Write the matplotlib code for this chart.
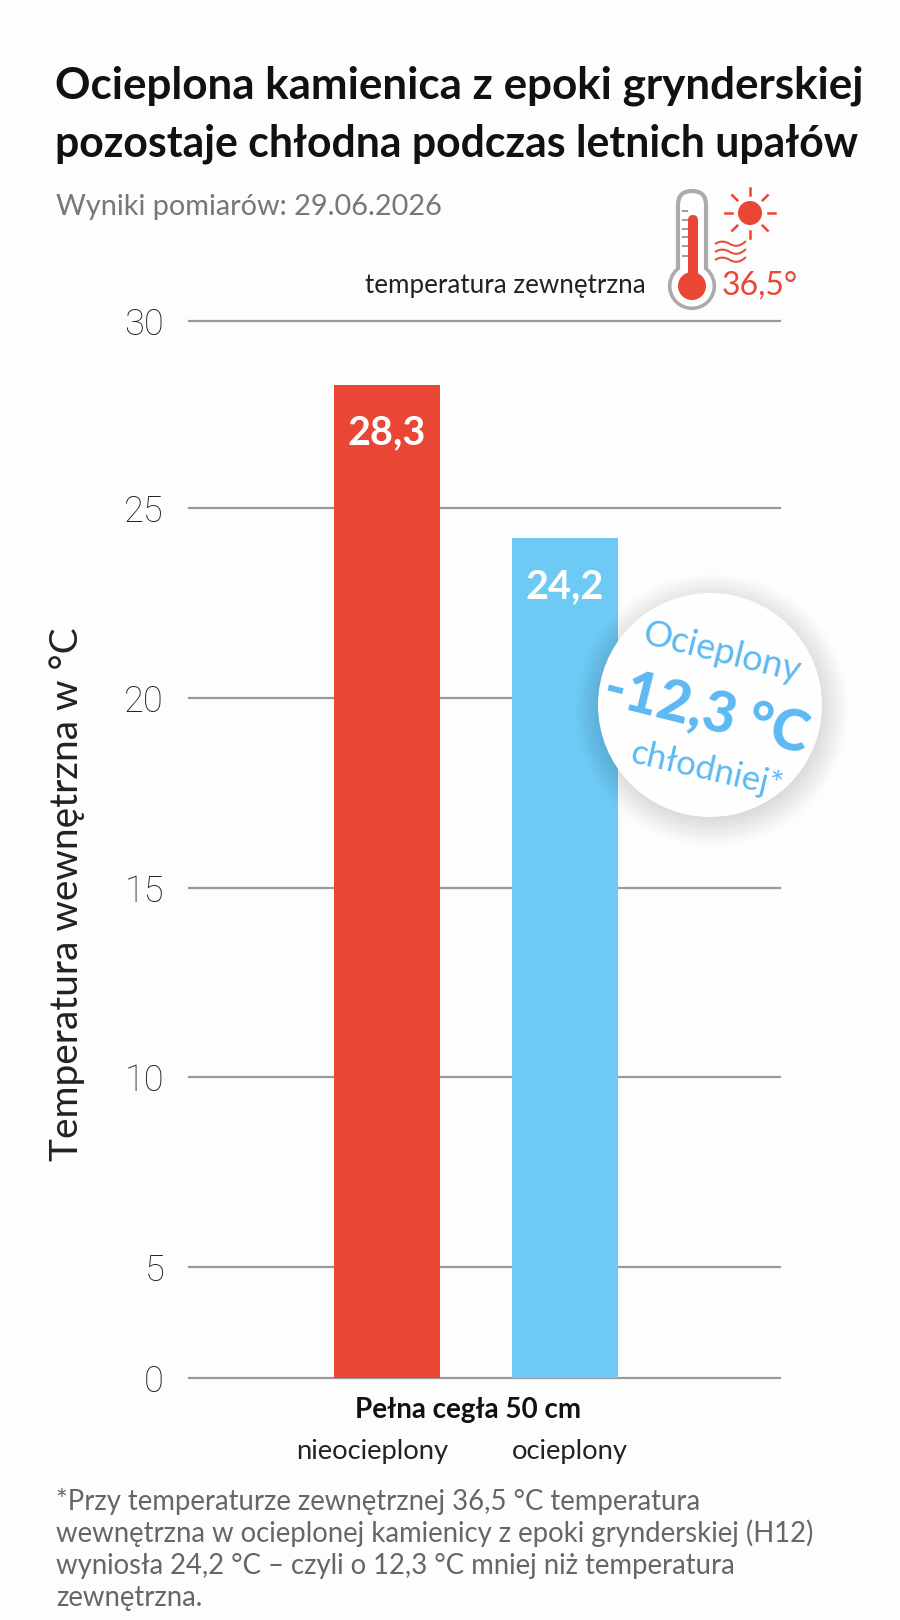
import matplotlib
matplotlib.use("Agg")
import matplotlib.pyplot as plt
import numpy as np
from matplotlib.patches import Circle, FancyBboxPatch, PathPatch
from matplotlib.path import Path

plt.rcParams["font.family"] = ["Lato", "DejaVu Sans"]

# Data
categories = ["nieocieplony", "ocieplony"]
values = [28.3, 24.2]
value_labels = ["28,3", "24,2"]
bar_colors = ["#EA4636", "#6CCAF4"]
y_ticks = [0, 5, 10, 15, 20, 25, 30]
group_label = "Pełna cegła 50 cm"

title_lines = ["Ocieplona kamienica z epoki grynderskiej",
               "pozostaje chłodna podczas letnich upałów"]
subtitle = "Wyniki pomiarów: 29.06.2026"
footnote_lines = ["*Przy temperaturze zewnętrznej 36,5 °C temperatura",
                  "wewnętrzna w ocieplonej kamienicy z epoki grynderskiej (H12)",
                  "wyniosła 24,2 °C – czyli o 12,3 °C mniej niż temperatura",
                  "zewnętrzna."]

RED = "#EA4636"
BLUE = "#5DB9F3"
BG = "#FDFDFD"
W, H = 900, 1620


# The source chart squeezes the 0-5 step, the rest of the axis is nearly linear
def squeeze(y):
    return np.interp(y, [0, 5, 25, 30], [0, 111, 870, 1057])


def unsqueeze(v):
    return np.interp(v, [0, 111, 870, 1057], [0, 5, 25, 30])


fig = plt.figure(figsize=(9, 16.2), dpi=100, facecolor=BG)

ax = fig.add_axes([189 / W, 1 - 1378 / H, (780 - 189) / W, (1378 - 321) / H], facecolor="none")
ax.set_yscale("function", functions=(squeeze, unsqueeze))
ax.set_ylim(0, 30)
ax.set_xlim(-1.112, 2.208)
ax.bar([0, 1], values, width=0.596, color=bar_colors, zorder=3)
ax.set_yticks(y_ticks)
ax.set_yticklabels([str(t) for t in y_ticks], fontsize=26, color="#222222", va="center_baseline",
                   family=["Roboto", "Lato"], fontweight="light")
ax.tick_params(axis="y", length=0, pad=18)
ax.set_xticks([])
ax.minorticks_off()
ax.grid(axis="y", color="#999999", lw=1.6, zorder=1, clip_on=False)
for s in ax.spines.values():
    s.set_visible(False)

for i, (v, lab) in enumerate(zip(values, value_labels)):
    ax.annotate(lab, (i, v), xytext=(0, -48), textcoords="offset pixels", ha="center", va="center",
                color="white", fontsize=28.5, fontweight="bold", zorder=4)

# Overlay in pixel coordinates for text blocks and decorations
ov = fig.add_axes([0, 0, 1, 1], facecolor="none")
ov.set_xlim(0, W)
ov.set_ylim(H, 0)
ov.axis("off")

for line, y, fs in zip(title_lines, [99, 156], [31.7, 30.8]):
    ov.text(55, y, line, fontsize=fs, fontweight="bold", color="#111111", va="baseline")
ov.text(56, 215, subtitle, fontsize=20.8, color="#777777", va="baseline")
ov.text(646, 293, "temperatura zewnętrzna", fontsize=18.7, color="#222222", ha="right", va="baseline")

ov.text(67, 894, "Temperatura wewnętrzna w °C", fontsize=28, color="#222222", rotation=90,
        ha="center", va="center")

ov.text(468, 1410, group_label, fontsize=20, fontweight="bold", color="#111111", ha="center", va="center")
for lab, x in zip(categories, [372, 570]):
    ov.text(x, 1452, lab, fontsize=19.7, color="#222222", ha="center", va="center")

for line, y in zip(footnote_lines, [1510, 1542, 1574, 1606]):
    ov.text(56, y, line, fontsize=19.8, color="#666666", va="baseline")

# Badge with soft shadow
cx, cy, r = 710, 705, 112
for k in range(18):
    ov.add_patch(Circle((cx + 2, cy + 5), r + 24 - k * 1.7, fc="#000000", ec="none", alpha=0.007, zorder=5))
ov.add_patch(Circle((cx, cy), r, fc="#FEFEFE", ec="none", zorder=6))
ov.text(722, 653, "Ocieplony", fontsize=26, color=BLUE, rotation=-14, rotation_mode="anchor",
        ha="center", va="center", zorder=7)
ov.text(706, 712, "-12,3 °C", fontsize=41, fontweight="black", color=BLUE, rotation=-14,
        rotation_mode="anchor", ha="center", va="center", zorder=7)
ov.text(707, 770, "chłodniej*", fontsize=25, color=BLUE, rotation=-13, rotation_mode="anchor",
        ha="center", va="center", zorder=7)

# Thermometer icon
ov.add_patch(Circle((692, 286), 22, fc="white", ec="#ABABAB", lw=3, zorder=3))
ov.add_patch(FancyBboxPatch((678, 191), 28, 90, boxstyle="round,pad=0,rounding_size=14",
                            fc="white", ec="#ABABAB", lw=3, zorder=3))
ov.add_patch(Circle((692, 286), 20.5, fc="white", ec="none", zorder=4))
ov.add_patch(FancyBboxPatch((688, 215), 10, 70, boxstyle="round,pad=0,rounding_size=5", fc=RED, ec="none", zorder=5))
ov.add_patch(Circle((692, 286), 14, fc=RED, ec="none", zorder=5))
for y in [211, 220, 229, 237, 246, 256]:
    ov.plot([683, 687], [y, y], color="#9AA0A8", lw=1.5, zorder=5)

# Sun and heat waves
sun = (750, 213)
ov.add_patch(Circle(sun, 12, fc=RED, ec="none", zorder=5))
for ang in np.arange(0, 360, 45):
    a = np.deg2rad(ang)
    ov.plot([sun[0] + 18 * np.cos(a), sun[0] + 25 * np.cos(a)],
            [sun[1] + 18 * np.sin(a), sun[1] + 25 * np.sin(a)], color=RED, lw=1.8, zorder=5)
for y in [244, 252, 260]:
    verts = [(715, y), (722, y - 5), (730, y), (738, y + 5), (746, y - 3)]
    codes = [Path.MOVETO, Path.CURVE3, Path.CURVE3, Path.CURVE3, Path.CURVE3]
    ov.add_patch(PathPatch(Path(verts, codes), fc="none", ec=RED, lw=1.4, zorder=5))
ov.text(722, 295, "36,5°", fontsize=23, color=RED, va="baseline", zorder=5)

fig.savefig("out.png", dpi=100, facecolor=BG)
